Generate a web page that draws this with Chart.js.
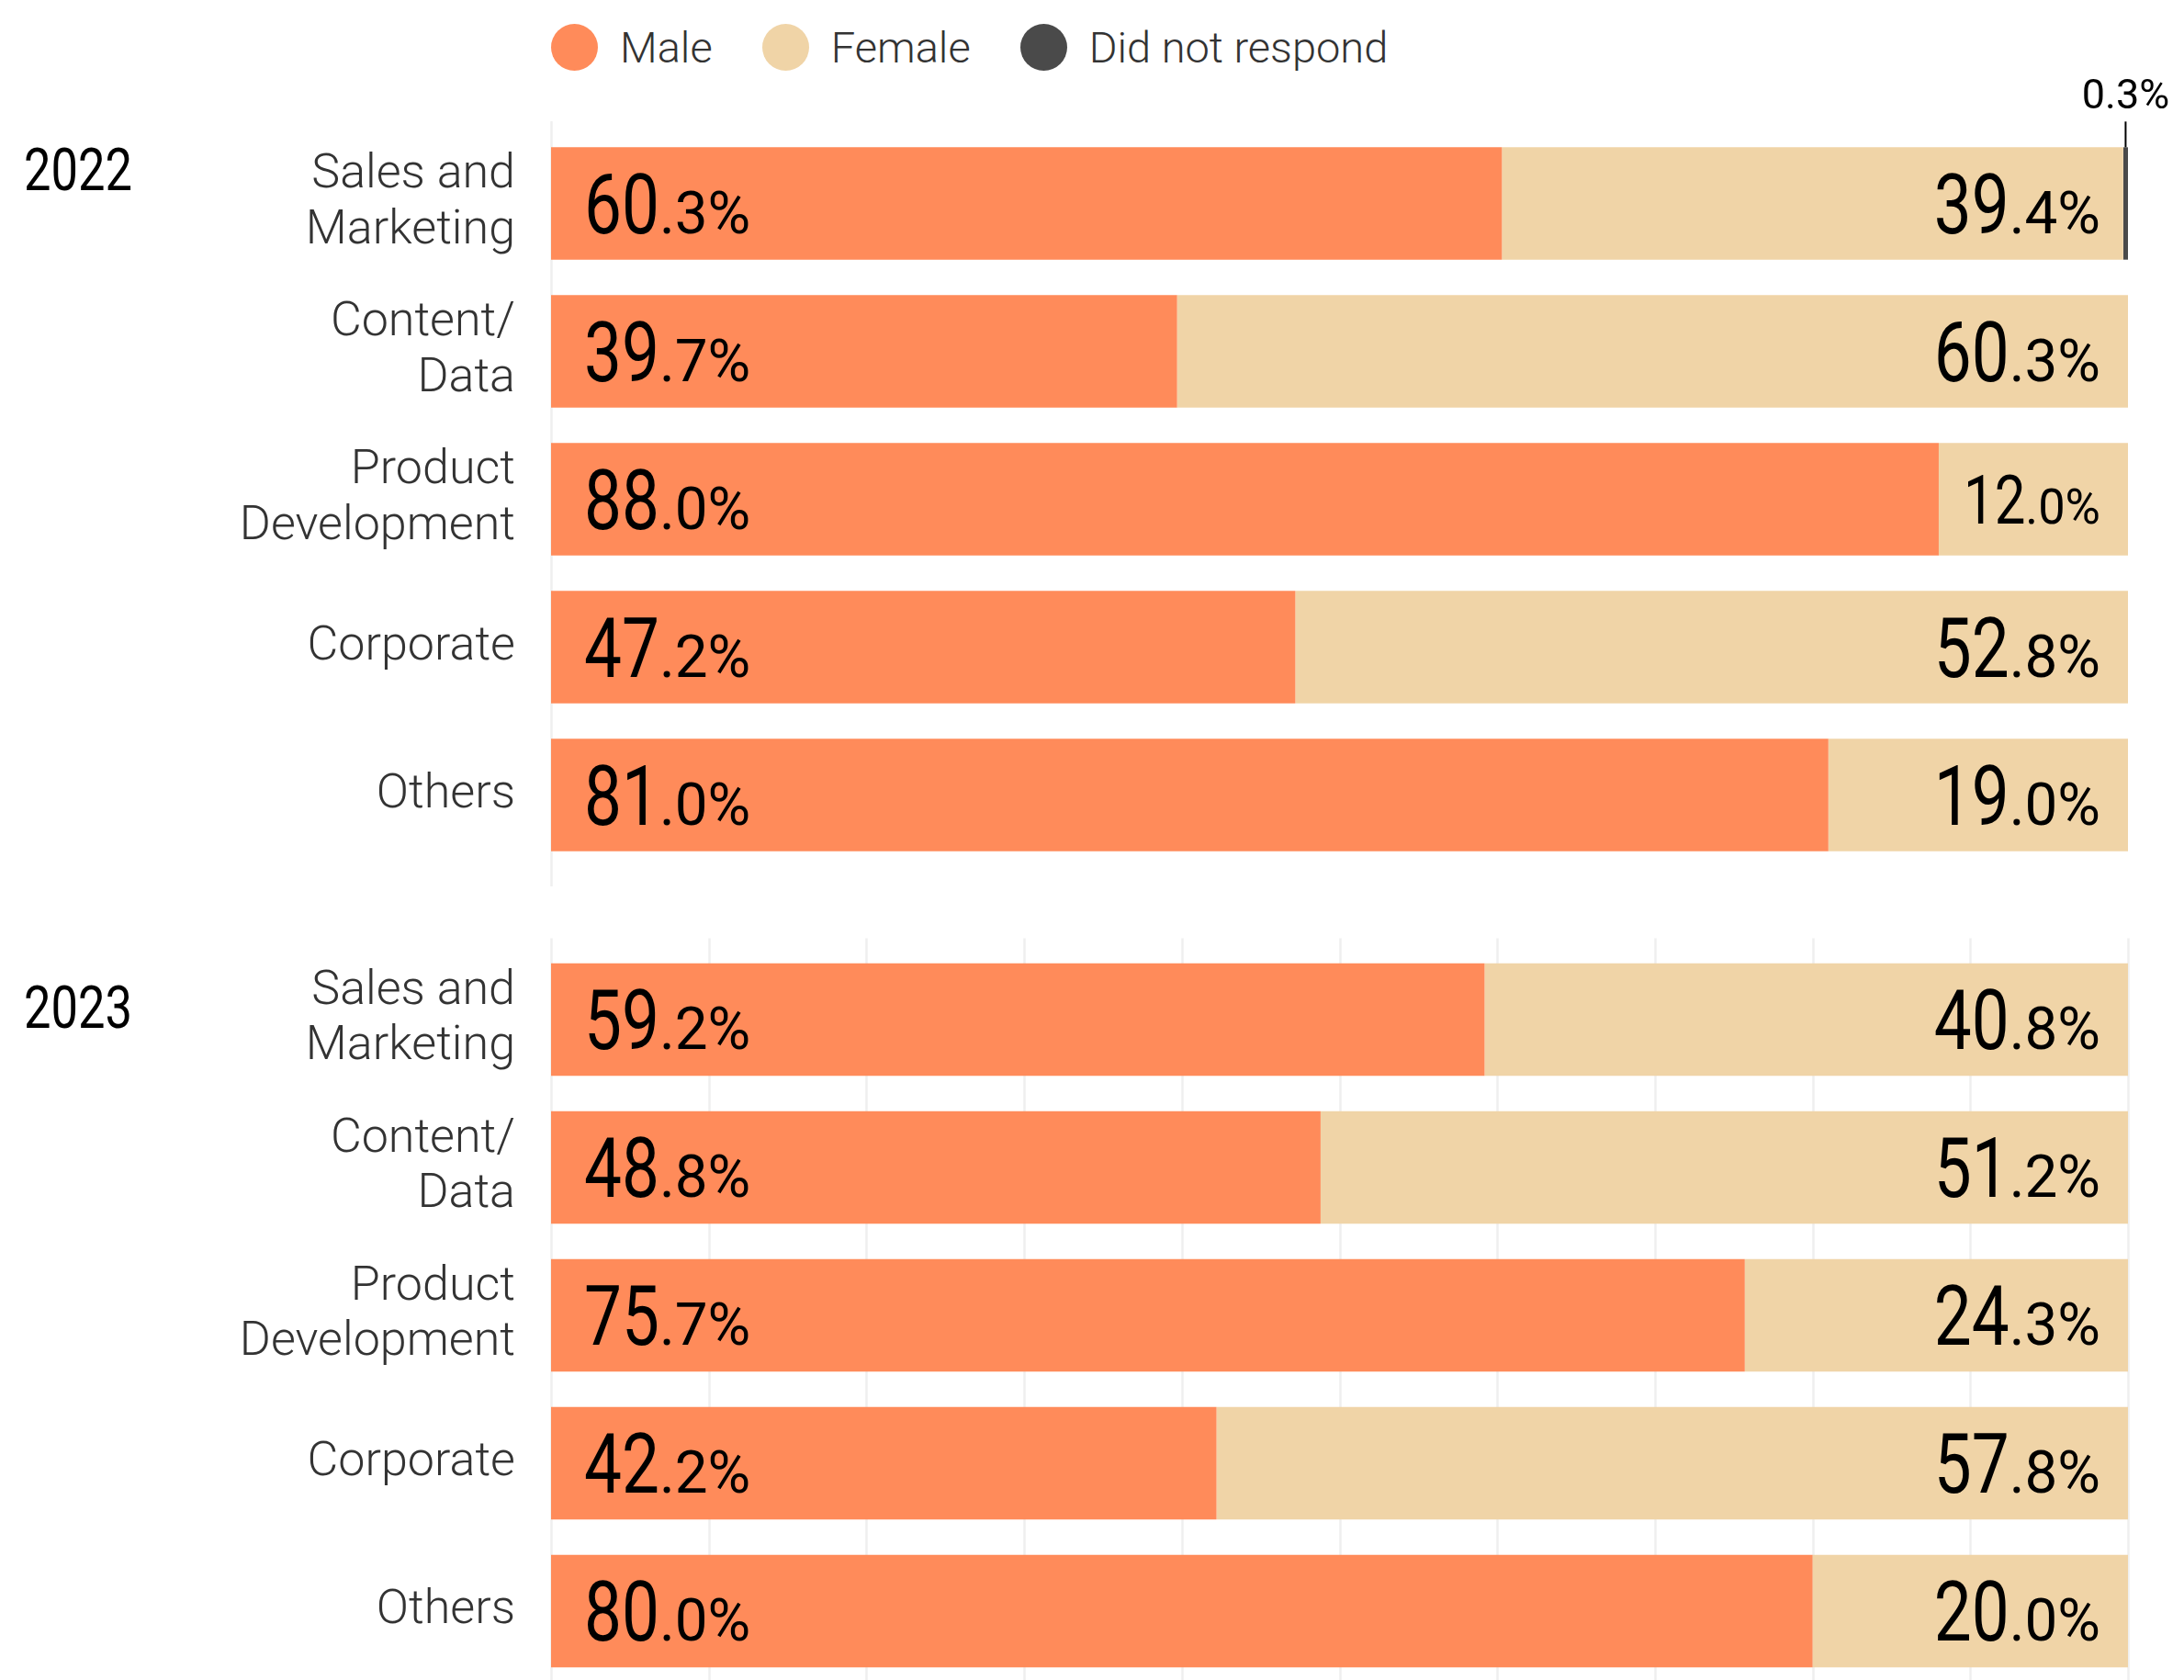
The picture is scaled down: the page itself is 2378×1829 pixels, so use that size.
<!DOCTYPE html>
<html>
<head>
<meta charset="utf-8">
<script src="https://cdn.jsdelivr.net/npm/chart.js@4.4.0/dist/chart.umd.min.js"></script>
<style>
  html, body { margin: 0; padding: 0; background: #fff; overflow: hidden; width: 2378px; height: 1829px; }
  #legend { position: absolute; left: 600px; top: 24px; display: flex; align-items: center;
            font-family: Roboto, sans-serif; font-weight: 300; font-size: 47px; color: #333; }
  .item { display: flex; align-items: center; margin-right: 54px; }
  .dot { width: 51px; height: 51px; border-radius: 50%; margin-right: 24px; }
  #c2022 { position: absolute; left: 0; top: 0; }
  #c2023 { position: absolute; left: 0; top: 1000px; }
</style>
</head>
<body>
<div id="legend"></div>
<canvas id="c2022" width="2378" height="1000"></canvas>
<canvas id="c2023" width="2378" height="860"></canvas>
<script>
// data
const categories = [['Sales and', 'Marketing'], ['Content/', 'Data'], ['Product', 'Development'], 'Corporate', 'Others'];
const seriesNames = ['Male', 'Female', 'Did not respond'];
const seriesColors = ['#ff8b5a', '#f0d4a7', '#4a4a4a'];

const male2022 = [60.3, 39.7, 88.0, 47.2, 81.0];
const female2022 = [39.4, 60.3, 12.0, 52.8, 19.0];
const noResp2022 = [0.3, 0, 0, 0, 0];

const male2023 = [59.2, 48.8, 75.7, 42.2, 80.0];
const female2023 = [40.8, 51.2, 24.3, 57.8, 20.0];
const noResp2023 = [0, 0, 0, 0, 0];

const grid2022 = [0];
const grid2023 = [0, 10, 20, 30, 40, 50, 60, 70, 80, 90, 100];

const FONT = "Roboto, sans-serif";
const SQ_BIG = 0.81;   // condensed look for the numbers
const SQ_SMALL = 0.98;

// legend (html)
const legend = document.getElementById('legend');
seriesNames.forEach((name, i) => {
    legend.innerHTML += `<div class="item"><span class="dot" style="background:${seriesColors[i]}"></span>${name}</div>`;
});

function squeezedText(ctx, text, x, y, font, sx) {
    ctx.save();
    ctx.translate(x, y);
    ctx.scale(sx, 1);
    ctx.font = font;
    ctx.fillText(text, 0, 0);
    ctx.restore();
}

// gridlines that run a bit past the plot area
const gridPlugin = {
    id: 'gridLines',
    beforeDatasetsDraw(chart, args, opts) {
        const ctx = chart.ctx, x = chart.scales.x, area = chart.chartArea;
        ctx.save();
        ctx.strokeStyle = '#efefef';
        ctx.lineWidth = 2.5;
        opts.values.forEach(v => {
            const px = Math.round(x.getPixelForValue(v)) + 0.5;
            ctx.beginPath();
            ctx.moveTo(px, area.top - opts.above);
            ctx.lineTo(px, area.bottom + opts.below);
            ctx.stroke();
        });
        ctx.restore();
    }
};

// 60.3% style labels: big integer, smaller decimals
const valuePlugin = {
    id: 'valueLabels',
    afterDatasetsDraw(chart, args, opts) {
        const ctx = chart.ctx, x = chart.scales.x;
        ctx.save();
        ctx.fillStyle = '#000';
        ctx.textBaseline = 'alphabetic';
        ctx.textAlign = 'left';
        [0, 1].forEach(di => {
            const meta = chart.getDatasetMeta(di);
            meta.data.forEach((bar, i) => {
                const v = chart.data.datasets[di].data[i];
                const p = bar.getProps(['x', 'y', 'base'], true);
                const parts = v.toFixed(1).split('.');
                const big = parts[0], small = '.' + parts[1] + '%';
                ctx.font = `90px ${FONT}`;
                const wb = ctx.measureText(big).width * SQ_BIG;
                ctx.font = `65px ${FONT}`;
                const ws = ctx.measureText(small).width * SQ_SMALL;
                const segW = Math.abs(p.x - p.base);
                const k = Math.min(1, (segW - 57) / (wb + ws));
                const base = p.y + 0.36 * 90 * k;
                let left;
                if (di === 0) left = x.getPixelForValue(0) + 36;
                else left = x.getPixelForValue(100) - 30 - (wb + ws) * k;
                squeezedText(ctx, big, left, base, `${90 * k}px ${FONT}`, SQ_BIG);
                squeezedText(ctx, small, left + wb * k, base, `${65 * k}px ${FONT}`, SQ_SMALL);
            });
        });
        // small "did not respond" callout
        const meta2 = chart.getDatasetMeta(2);
        meta2.data.forEach((bar, i) => {
            const v = chart.data.datasets[2].data[i];
            if (!v) return;
            const p = bar.getProps(['x', 'y', 'base', 'height'], true);
            const cx = (p.x + p.base) / 2;
            const top = p.y - p.height / 2;
            ctx.strokeStyle = '#000';
            ctx.lineWidth = 2;
            ctx.beginPath();
            ctx.moveTo(cx, top - 28);
            ctx.lineTo(cx, top);
            ctx.stroke();
            ctx.font = `45px ${FONT}`;
            ctx.textAlign = 'center';
            ctx.fillText(v.toFixed(1) + '%', cx, top - 42);
            ctx.textAlign = 'left';
        });
        // year label
        squeezedText(ctx, opts.year, 26, opts.yearBase, `400 64px ${FONT}`, 0.82);
        ctx.restore();
    }
};

function makeChart(id, year, male, female, noResp, gridValues, pad, gridExt, yearBase) {
    return new Chart(document.getElementById(id), {
        type: 'bar',
        data: {
            labels: categories,
            datasets: [male, female, noResp].map((d, i) => ({
                label: seriesNames[i],
                data: d,
                backgroundColor: seriesColors[i],
                borderWidth: 0,
                barPercentage: 0.76,
                categoryPercentage: 1.0
            }))
        },
        options: {
            indexAxis: 'y',
            responsive: false,
            animation: false,
            layout: { padding: { top: pad[0], bottom: pad[1], left: 0, right: 61 } },
            plugins: {
                legend: { display: false },
                tooltip: { enabled: false },
                gridLines: { values: gridValues, above: gridExt[0], below: gridExt[1] },
                valueLabels: { year: year, yearBase: yearBase }
            },
            scales: {
                x: { type: 'linear', min: 0, max: 100, stacked: true, display: false },
                y: {
                    stacked: true,
                    grid: { display: false, drawTicks: false },
                    border: { display: false },
                    ticks: {
                        padding: 39,
                        color: '#333',
                        font: { family: FONT, weight: 300, size: 52, lineHeight: 1.17 }
                    },
                    afterFit: s => {
                        s.width = 600;
                        s.paddingTop = 0;
                        s.paddingBottom = 0;
                    }
                }
            }
        },
        plugins: [gridPlugin, valuePlugin]
    });
}

makeChart('c2022', '2022', male2022, female2022, noResp2022, grid2022, [141, 54], [9, 19], 207);
makeChart('c2023', '2023', male2023, female2023, noResp2023, grid2023, [29.5, 25.5], [8, 40], 119);
</script>
</body>
</html>
